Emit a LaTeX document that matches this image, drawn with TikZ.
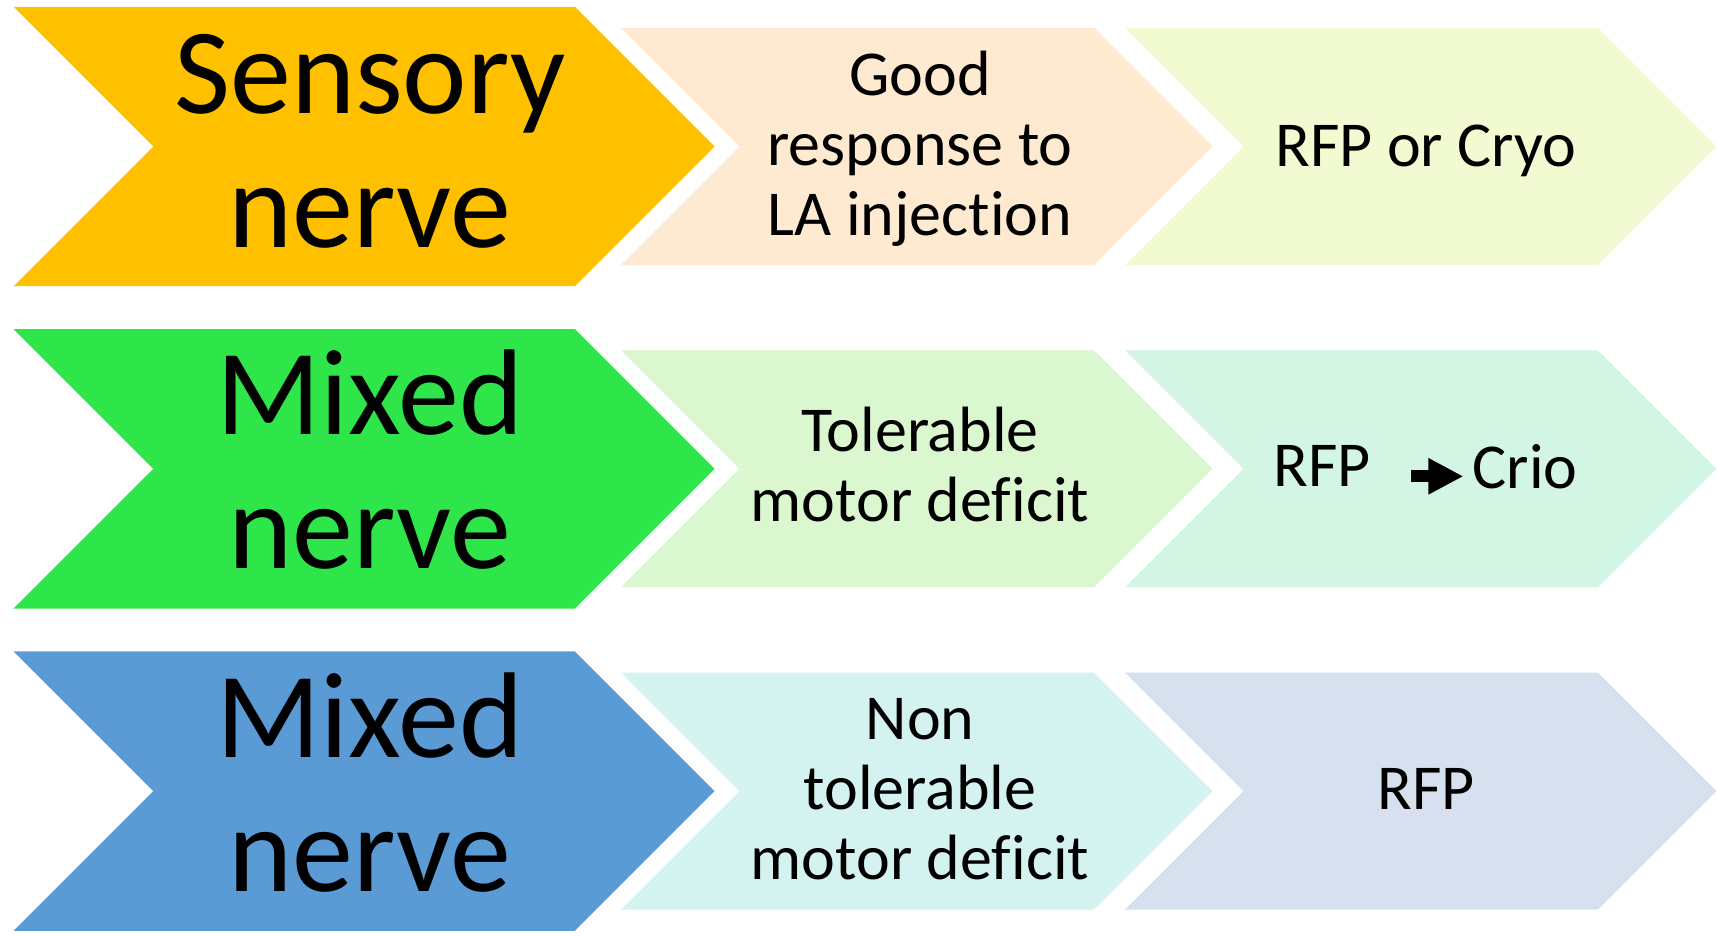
\documentclass[tikz,border=0pt]{standalone}
\usepackage{fontspec}
\setmainfont{Carlito}[Ligatures=NoCommon]
\usetikzlibrary{arrows.meta}

\definecolor{sensory}{HTML}{FFC000}
\definecolor{mixedA}{HTML}{2EE64A}
\definecolor{mixedB}{HTML}{5B9BD5}
\definecolor{peach}{HTML}{FEE9D1}
\definecolor{lime}{HTML}{F2FAD1}
\definecolor{palegreen}{HTML}{DAF7D0}
\definecolor{mint}{HTML}{D3F5E3}
\definecolor{paleaqua}{HTML}{D3F2F0}
\definecolor{paleblue}{HTML}{D6E0EE}

% chevron: left x, centre y, half height, total width, fill colour
\newcommand{\chevronshape}[5]{%
  \fill[#5] (#1,#2-#3) -- (#1+#4-#3,#2-#3) -- (#1+#4,#2)
    -- (#1+#4-#3,#2+#3) -- (#1,#2+#3) -- (#1+#3,#2) -- cycle;}

\begin{document}
\begin{tikzpicture}[x=1pt,y=-1pt,
  bigtext/.style={inner sep=0pt, align=center, font=\fontsize{122}{134}\selectfont},
  steptext/.style={inner sep=0pt, align=center, font=\fontsize{64}{70}\selectfont}]
\useasboundingbox (0,0) rectangle (1717,937);

% row 1
\chevronshape{13.6}{146.5}{139.7}{701}{sensory}
\chevronshape{621}{146.5}{118.5}{591.5}{peach}
\chevronshape{1125}{146.5}{118.5}{591.5}{lime}
% row 2
\chevronshape{13.6}{468.8}{139.7}{701}{mixedA}
\chevronshape{621}{468.8}{118.5}{591.5}{palegreen}
\chevronshape{1125}{468.8}{118.5}{591.5}{mint}
% row 3
\chevronshape{13.6}{791.1}{139.7}{701}{mixedB}
\chevronshape{621}{791.1}{118.5}{591.5}{paleaqua}
\chevronshape{1125}{791.1}{118.5}{591.5}{paleblue}

% labels
\node[bigtext] (sens) at (370,141.5) {Sensory\\nerve};
\node[steptext] (good) at (920,148.5) {Good\\response to\\LA injection};
\node[steptext] (rfpcryo) at (1426,150.5) {RFP or Cryo};

\node[bigtext] (mixa) at (370,459.8) {Mixed\\nerve};
\node[steptext] (tol) at (920,464.8) {Tolerable\\motor deficit};
\node[steptext] (rfpa) at (1322,466.3) {RFP};
\node[steptext] (crio) at (1525,466.3) {Crio};
\draw[line width=12pt, -{Triangle[length=35pt,width=34pt]},
  shorten <=40pt, shorten >=9pt] ([yshift=-10pt]rfpa.east) -- ([yshift=-10pt]crio.west);

\node[bigtext] (mixb) at (370,782.1) {Mixed\\nerve};
\node[steptext] (nontol) at (920,789.6) {Non\\tolerable\\motor deficit};
\node[steptext] (rfpb) at (1426,788.6) {RFP};
\end{tikzpicture}
\end{document}
